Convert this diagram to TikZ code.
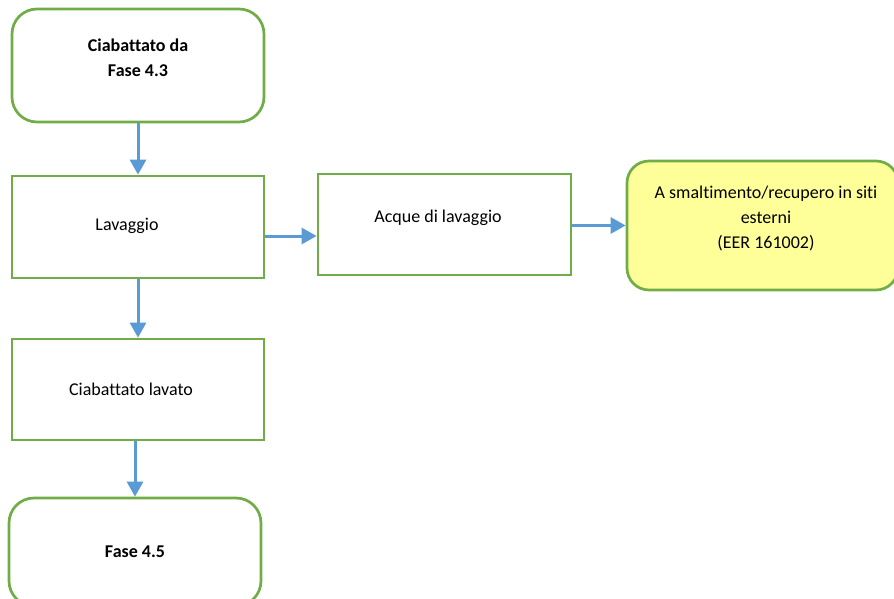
\documentclass[tikz,border=0pt]{standalone}
\usepackage{fontspec}
\setmainfont[Ligatures=NoCommon]{Carlito}
\usetikzlibrary{arrows.meta}
\definecolor{boxgreen}{HTML}{70AD47}
\definecolor{arrblue}{HTML}{5B9BD5}
\definecolor{paleyellow}{HTML}{FFFF99}
\begin{document}
\begin{tikzpicture}[x=1pt,y=-1pt,
  sqbox/.style={draw=boxgreen, line width=2.7pt, fill=white, minimum width=252pt, minimum height=101pt, inner sep=0pt},
  rbox/.style={sqbox, rounded corners=25pt},
  txt/.style={font=\fontsize{18}{25}\selectfont, align=center, inner sep=0pt},
  btxt/.style={txt, font=\fontsize{18}{25}\selectfont\bfseries},
  arr/.style={draw=arrblue, line width=3pt, -{Triangle[length=15pt,width=16pt]}}]
\clip (0,0) rectangle (894,599);
\useasboundingbox (0,0) rectangle (894,599);
% boxes
\node[rbox, minimum height=113pt] (b1) at (138,65.5) {};
\node[sqbox, minimum height=102pt] (b2) at (138,227) {};
\node[sqbox, minimum width=253pt] (b3) at (444.5,224.5) {};
\node[rbox, fill=paleyellow, minimum width=271pt, minimum height=129pt, rounded corners=22pt] (b4) at (762.5,225.5) {};
\node[sqbox] (b5) at (138,389.5) {};
\node[rbox, minimum height=108pt] (b6) at (135,552) {};
% texts
\node[btxt] (t1) at (138,58) {Ciabattato da\\Fase 4.3};
\node[txt] (t2) at (127,226) {Lavaggio};
\node[txt] (t3) at (438,218) {Acque di lavaggio};
\node[txt] (t4) at (766,218) {A smaltimento/recupero in siti\\esterni\\(EER 161002)};
\node[txt] (t5) at (131,389) {Ciabattato lavato};
\node[btxt] (t6) at (135,552) {Fase 4.5};
% connectors
\draw[arr] (b1.south) -- (b2.north);
\draw[arr] (b2.east |- 0,236) -- (b3.west |- 0,236);
\draw[arr] (b3.east |- b4.west) -- (b4.west);
\draw[arr] (b2.south) -- (b5.north);
\draw[arr] (b5.south -| b6.north) -- (b6.north);
\end{tikzpicture}
\end{document}
